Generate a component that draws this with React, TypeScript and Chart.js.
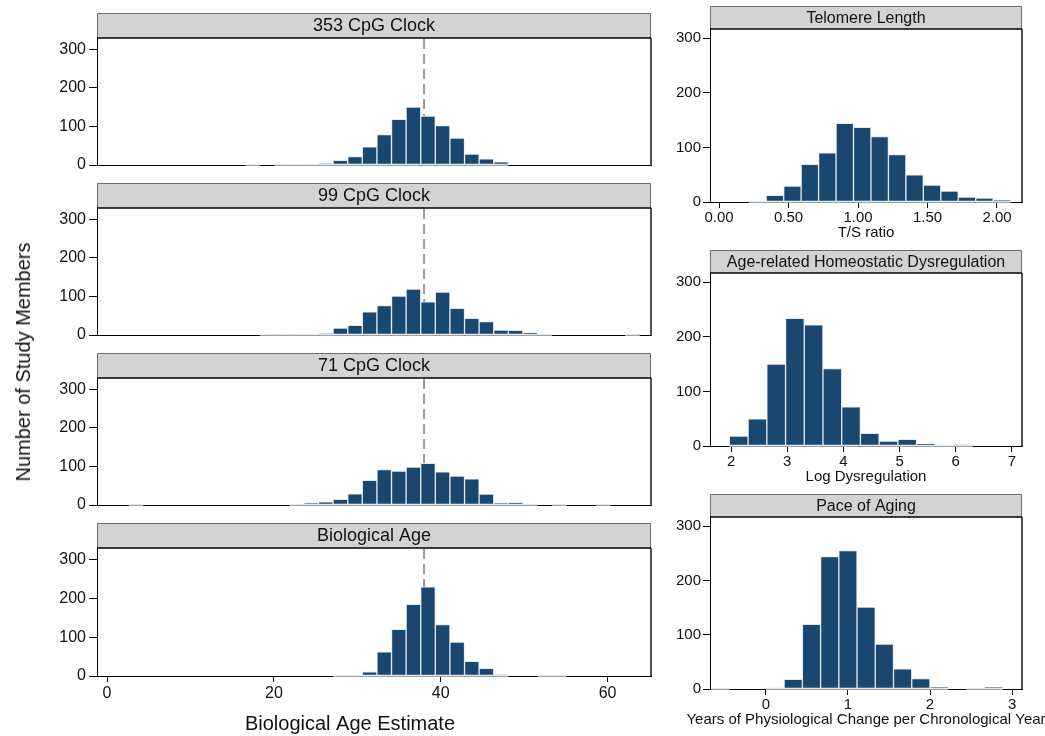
import React, { useEffect, useRef } from "react";
import { Chart, registerables } from "chart.js";

Chart.register(...registerables);

const FONT = '"Liberation Sans", Arial, Helvetica, sans-serif';
Chart.defaults.font.family = FONT;
Chart.defaults.color = "#111";

// ---------- data ----------
const COUNT_TICKS = [0, 100, 200, 300];

// Left column: biological age estimates (years), histogram bins of 1.75 years
const AGE_BIN_WIDTH = 1.75;
const AGE_X_TICKS = [0, 20, 40, 60];
const CHRONOLOGICAL_AGE = 38;

const CPG353_START = 16.6;
const CPG353_COUNTS = [1, 0, 1, 1, 1, 4, 12, 22, 47, 79, 118, 150, 127, 102, 70, 28, 16, 8];

const CPG99_START = 18.35;
const CPG99_COUNTS = [1, 1, 1, 1, 4, 18, 25, 60, 76, 101, 119, 86, 111, 69, 43, 35, 13, 12, 6, 1, 0, 0, 0, 0, 0, 1];

const CPG71_START = 2.6;
const CPG71_COUNTS = [1, 0, 0, 0, 0, 0, 0, 0, 0, 0, 0, 1, 5, 8, 15, 29, 64, 92, 88, 98, 108, 86, 75, 68, 28, 5, 6, 1, 0, 1, 0, 0, 1];

const BIOAGE_START = 27.1;
const BIOAGE_COUNTS = [1, 1, 11, 62, 120, 184, 229, 132, 87, 38, 20, 3, 0, 0, 1, 1];

// Right column
const TELOMERE_START = 0.214;
const TELOMERE_WIDTH = 0.1256;
const TELOMERE_COUNTS = [1, 12, 29, 69, 90, 144, 137, 120, 87, 50, 31, 20, 9, 7, 3];
const TELOMERE_TICKS = [0, 0.5, 1, 1.5, 2];

const DYSREG_START = 1.97;
const DYSREG_WIDTH = 0.3333;
const DYSREG_COUNTS = [18, 50, 150, 234, 222, 142, 72, 23, 9, 12, 4, 1, 2];
const DYSREG_TICKS = [2, 3, 4, 5, 6, 7];

const PACE_START = -0.665;
const PACE_WIDTH = 0.222;
const PACE_COUNTS = [1, 0, 0, 2, 18, 119, 244, 255, 151, 83, 37, 19, 3, 0, 1, 3];
const PACE_TICKS = [0, 1, 2, 3];

// ---------- helpers ----------
const NAVY = "#1a476f";
const OUTLINE = "#e2e8ef";

function binPoints(start: number, width: number, counts: number[]) {
  return counts.map((c, i) => ({ x: start + (i + 0.5) * width, y: c }));
}

interface PanelSpec {
  id: string;
  title: string;
  titleSize: number;
  headerHeight: number;
  tickSize: number;
  yTickLen: number;
  yTickPad: number;
  box: [number, number, number, number]; // canvas l,t,r,b
  plot: [number, number, number, number]; // plot l,t,r,b
  xMin: number;
  xMax: number;
  xTicks: number[];
  xShow: boolean;
  xTitle?: string;
  xTitleSize?: number;
  xTitleX?: number; // page x of title centre
  xTitleY?: number; // page y of title centre
  xFormat?: (v: number) => string;
  yMax: number;
  points: { x: number; y: number }[];
  refLine?: number;
}

const panelFrame = {
  id: "panelFrame",
  beforeDatasetsDraw(chart: any, _a: any, opts: any) {
    if (opts.refLine == null) return;
    const { ctx, chartArea: a, scales } = chart;
    const x = scales.x.getPixelForValue(opts.refLine);
    ctx.save();
    ctx.strokeStyle = "#9b9b9b";
    ctx.lineWidth = 2;
    ctx.setLineDash([10, 5]);
    ctx.beginPath();
    ctx.moveTo(x, a.top + 1);
    ctx.lineTo(x, a.bottom);
    ctx.stroke();
    ctx.restore();
  },
  afterDatasetsDraw(chart: any) {
    const { ctx } = chart;
    const meta = chart.getDatasetMeta(0);
    const values = chart.data.datasets[0].data;
    ctx.save();
    ctx.fillStyle = OUTLINE;
    meta.data.forEach((bar: any, i: number) => {
      if (!(values[i].y > 0)) return;
      const p = bar.getProps(["x", "width", "base"], true);
      ctx.fillRect(p.x - p.width / 2, p.base - 0.5, p.width, 1.7);
    });
    ctx.restore();
  },
  afterDraw(chart: any, _a: any, opts: any) {
    const { ctx, chartArea: a } = chart;
    const hh = opts.headerHeight;
    ctx.save();
    ctx.strokeStyle = "#1a1a1a";
    ctx.lineWidth = 1.5;
    ctx.beginPath();
    ctx.moveTo(a.right, a.top);
    ctx.lineTo(a.right, a.bottom + 1);
    ctx.stroke();

    ctx.fillStyle = "#d3d3d3";
    ctx.fillRect(a.left, a.top - hh, a.right - a.left, hh);
    ctx.strokeStyle = "#6e6e6e";
    ctx.lineWidth = 1;
    ctx.beginPath();
    ctx.moveTo(a.left + 0.5, a.top);
    ctx.lineTo(a.left + 0.5, a.top - hh + 0.5);
    ctx.lineTo(a.right - 0.5, a.top - hh + 0.5);
    ctx.lineTo(a.right - 0.5, a.top);
    ctx.stroke();
    ctx.strokeStyle = "#000";
    ctx.lineWidth = 1.5;
    ctx.beginPath();
    ctx.moveTo(a.left, a.top);
    ctx.lineTo(a.right, a.top);
    ctx.stroke();

    ctx.fillStyle = "#111";
    ctx.font = `${opts.titleSize}px ${FONT}`;
    ctx.textAlign = "center";
    ctx.textBaseline = "middle";
    ctx.fillText(opts.title, (a.left + a.right) / 2, a.top - hh / 2 + 1);

    if (opts.xTitle) {
      ctx.font = `${opts.xTitleSize}px ${FONT}`;
      ctx.fillText(opts.xTitle, opts.xTitleX, opts.xTitleY);
    }
    ctx.restore();
  },
};

// ---------- layout ----------
const LEFT_HEADER_TOPS = [13, 183, 353, 523];
const LEFT_SPECS: [string, number, number[]][] = [
  ["353 CpG Clock", CPG353_START, CPG353_COUNTS],
  ["99 CpG Clock", CPG99_START, CPG99_COUNTS],
  ["71 CpG Clock", CPG71_START, CPG71_COUNTS],
  ["Biological Age", BIOAGE_START, BIOAGE_COUNTS],
];

const PANELS: PanelSpec[] = [
  ...LEFT_SPECS.map(([title, start, counts], i) => {
    const ht = LEFT_HEADER_TOPS[i];
    const plotTop = ht + 25;
    const plotBottom = i === 3 ? 676 : plotTop + 127;
    const last = i === 3;
    const spec: PanelSpec = {
      id: "L" + i,
      title,
      titleSize: 18,
      headerHeight: 25,
      tickSize: 16,
      yTickLen: 8,
      yTickPad: 3,
      box: [0, ht - 5, 660, last ? 736 : plotBottom + 16],
      plot: [97, plotTop, 651, plotBottom],
      xMin: -1.2,
      xMax: 65.2,
      xTicks: AGE_X_TICKS,
      xShow: last,
      xTitle: last ? "Biological Age Estimate" : undefined,
      xTitleSize: 20,
      xTitleX: 350,
      xTitleY: 724,
      yMax: 329,
      points: binPoints(start, AGE_BIN_WIDTH, counts),
      refLine: CHRONOLOGICAL_AGE,
    };
    return spec;
  }),
  {
    id: "R0",
    title: "Telomere Length",
    titleSize: 16,
    headerHeight: 23,
    tickSize: 15,
    yTickLen: 7,
    yTickPad: 2,
    box: [660, 2, 1045, 242],
    plot: [710, 29, 1022, 202],
    xMin: -0.065,
    xMax: 2.18,
    xTicks: TELOMERE_TICKS,
    xShow: true,
    xTitle: "T/S ratio",
    xTitleSize: 15,
    xTitleX: 866,
    xTitleY: 233,
    xFormat: (v: number) => v.toFixed(2),
    yMax: 317,
    points: binPoints(TELOMERE_START, TELOMERE_WIDTH, TELOMERE_COUNTS),
  },
  {
    id: "R1",
    title: "Age-related Homeostatic Dysregulation",
    titleSize: 16,
    headerHeight: 23,
    tickSize: 15,
    yTickLen: 7,
    yTickPad: 2,
    box: [660, 246, 1045, 486],
    plot: [710, 273, 1022, 446],
    xMin: 1.625,
    xMax: 7.18,
    xTicks: DYSREG_TICKS,
    xShow: true,
    xTitle: "Log Dysregulation",
    xTitleSize: 15,
    xTitleX: 866,
    xTitleY: 477,
    yMax: 317,
    points: binPoints(DYSREG_START, DYSREG_WIDTH, DYSREG_COUNTS),
  },
  {
    id: "R2",
    title: "Pace of Aging",
    titleSize: 16,
    headerHeight: 23,
    tickSize: 15,
    yTickLen: 7,
    yTickPad: 2,
    box: [660, 490, 1045, 736],
    plot: [710, 517, 1022, 689],
    xMin: -0.68,
    xMax: 3.12,
    xTicks: PACE_TICKS,
    xShow: true,
    xTitle: "Years of Physiological Change per Chronological Year",
    xTitleSize: 15,
    xTitleX: 866,
    xTitleY: 720,
    yMax: 317,
    points: binPoints(PACE_START, PACE_WIDTH, PACE_COUNTS),
  },
];

function Panel({ spec }: { spec: PanelSpec }) {
  const ref = useRef<HTMLCanvasElement | null>(null);
  const [bl, bt, br, bb] = spec.box;
  const [pl, pt, pr, pb] = spec.plot;
  useEffect(() => {
    if (!ref.current) return;
    const chart = new Chart(ref.current, {
      type: "bar",
      data: {
        datasets: [
          {
            data: spec.points as any,
            backgroundColor: NAVY,
            borderColor: OUTLINE,
            borderWidth: 1,
            borderSkipped: false,
            barPercentage: 1,
            categoryPercentage: 1,
          } as any,
        ],
      },
      options: {
        animation: false,
        responsive: false,
        maintainAspectRatio: false,
        events: [],
        layout: { padding: { left: 0, top: pt - bt, right: br - pr, bottom: 0 } },
        plugins: {
          legend: { display: false },
          tooltip: { enabled: false },
          panelFrame: {
            title: spec.title,
            titleSize: spec.titleSize,
            headerHeight: spec.headerHeight,
            refLine: spec.refLine,
            xTitle: spec.xTitle,
            xTitleSize: spec.xTitleSize,
            xTitleX: (spec.xTitleX || 0) - bl,
            xTitleY: (spec.xTitleY || 0) - bt,
          },
        } as any,
        scales: {
          x: {
            type: "linear",
            min: spec.xMin,
            max: spec.xMax,
            offset: false,
            afterBuildTicks: (s: any) => {
              s.ticks = spec.xTicks.map((v) => ({ value: v }));
            },
            afterFit: (s: any) => {
              s.height = bb - pb;
            },
            grid: {
              display: true,
              offset: false,
              drawOnChartArea: false,
              drawTicks: spec.xShow,
              tickLength: 6,
              tickColor: "#000",
              tickWidth: 1,
            },
            border: { display: true, color: "#000", width: 1 },
            ticks: {
              display: spec.xShow,
              padding: spec.id.startsWith("L") ? 2 : 1,
              autoSkip: false,
              maxRotation: 0,
              font: { size: spec.tickSize },
              color: "#111",
              callback: (v: any) => (spec.xFormat ? spec.xFormat(Number(v)) : String(v)),
            },
            title: { display: false },
          } as any,
          y: {
            type: "linear",
            min: 0,
            max: spec.yMax,
            afterBuildTicks: (s: any) => {
              s.ticks = COUNT_TICKS.map((v) => ({ value: v }));
            },
            afterFit: (s: any) => {
              s.width = pl - bl;
            },
            grid: {
              display: true,
              drawOnChartArea: false,
              drawTicks: true,
              tickLength: spec.yTickLen,
              tickColor: "#000",
              tickWidth: 1,
            },
            border: { display: true, color: "#000", width: 1 },
            ticks: {
              padding: spec.yTickPad,
              autoSkip: false,
              font: { size: spec.tickSize },
              color: "#111",
            },
          } as any,
        },
      },
      plugins: [panelFrame as any],
    });
    return () => chart.destroy();
  }, []);
  return (
    <canvas
      ref={ref}
      width={br - bl}
      height={bb - bt}
      style={{ position: "absolute", left: bl, top: bt, width: br - bl, height: bb - bt }}
    />
  );
}

export default function App() {
  return (
    <div
      style={{
        position: "absolute",
        left: 0,
        top: 0,
        width: 1045,
        height: 736,
        background: "#fff",
        overflow: "hidden",
      }}
    >
      {PANELS.map((p) => (
        <Panel key={p.id} spec={p} />
      ))}
      <div
        style={{
          position: "absolute",
          left: 23,
          top: 362,
          transform: "translate(-50%, -50%) rotate(-90deg)",
          whiteSpace: "nowrap",
          fontFamily: FONT,
          fontSize: 20,
          color: "#111",
          lineHeight: 1,
        }}
      >
        Number of Study Members
      </div>
    </div>
  );
}
